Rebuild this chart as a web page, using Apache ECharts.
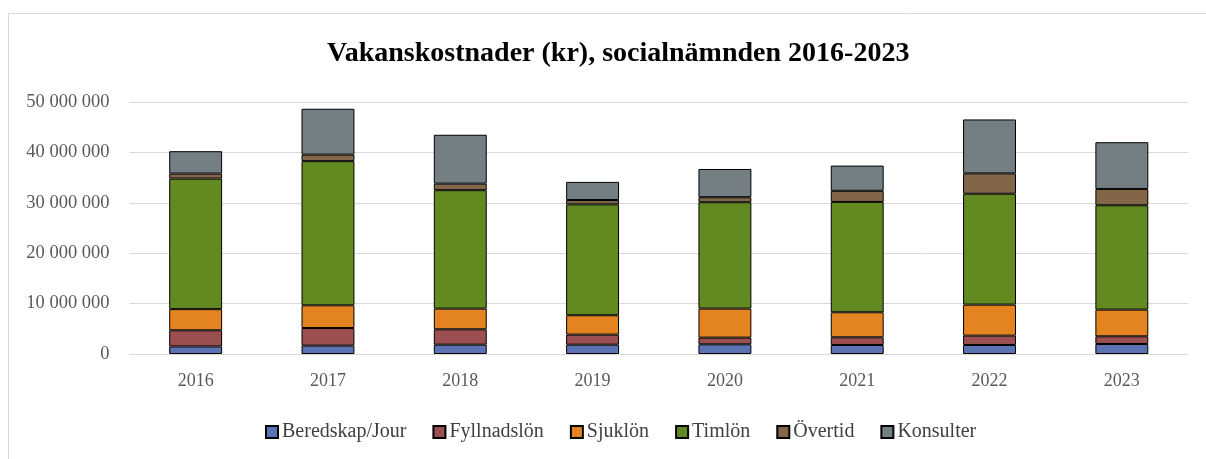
<!DOCTYPE html>
<html>
<head>
<meta charset="utf-8">
<script src="https://cdn.jsdelivr.net/npm/echarts@6/dist/echarts.min.js"></script>
<style>
html, body { margin: 0; padding: 0; background: #fff; }
#main { width: 1206px; height: 459px; }
</style>
</head>
<body>
<div id="main"></div>
<script>
// år
var years = ['2016', '2017', '2018', '2019', '2020', '2021', '2022', '2023'];
// kostnadsslag (kr)
var beredskap = [1500000, 1660000, 1850000, 1850000, 1920000, 1790000, 1790000, 1990000];
var fyllnad = [3200000, 3500000, 3050000, 2000000, 1330000, 1520000, 1850000, 1520000];
var sjuklon = [4200000, 4500000, 4100000, 3840000, 5760000, 4970000, 6160000, 5300000];
var timlon = [25900000, 28600000, 23500000, 22000000, 21100000, 21900000, 22000000, 20700000];
var overtid = [1000000, 1300000, 1300000, 860000, 1000000, 2200000, 4040000, 3240000];
var konsulter = [4440000, 9100000, 9700000, 3600000, 5600000, 5000000, 10700000, 9270000];
var yTicks = [0, 10000000, 20000000, 30000000, 40000000, 50000000];

var fontFam = '"Liberation Serif", "DejaVu Serif", serif';
var seriesDef = [
    {name: 'Beredskap/Jour', data: beredskap, color: '#5b72b3'},
    {name: 'Fyllnadslön', data: fyllnad, color: '#9c4f51'},
    {name: 'Sjuklön', data: sjuklon, color: '#e48420'},
    {name: 'Timlön', data: timlon, color: '#638a20'},
    {name: 'Övertid', data: overtid, color: '#836648'},
    {name: 'Konsulter', data: konsulter, color: '#737f83'}
];

function fmt(v) {
    return String(v).replace(/\B(?=(\d{3})+(?!\d))/g, ' ');
}

var chart = echarts.init(document.getElementById('main'), null, {renderer: 'canvas'});
chart.setOption({
    backgroundColor: '#fff',
    animation: false,
    graphic: [{
        type: 'rect',
        shape: {x: 8.5, y: 13.5, width: 1250, height: 500},
        style: {fill: 'none', stroke: '#d9d9d9', lineWidth: 1},
        silent: true
    }],
    title: {
        text: 'Vakanskostnader (kr), socialnämnden 2016-2023',
        left: 322,
        top: 35,
        textStyle: {fontFamily: fontFam, fontWeight: 'bold', fontSize: 28, color: '#000'}
    },
    legend: {
        bottom: 12,
        left: 260,
        itemWidth: 12,
        itemHeight: 12,
        itemGap: 26,
        icon: 'rect',
        textStyle: {fontFamily: fontFam, fontSize: 20, color: '#404040', padding: [0, 0, 0, -1]},
        data: seriesDef.map(function(s) { return s.name; })
    },
    grid: {left: 129.5, right: 18, top: 102, bottom: 105, containLabel: false},
    xAxis: {
        type: 'category',
        data: years,
        axisLine: {lineStyle: {color: '#d9d9d9', width: 1}},
        axisTick: {show: false},
        axisLabel: {fontFamily: fontFam, fontSize: 18, color: '#595959', margin: 18}
    },
    yAxis: {
        type: 'value',
        min: 0,
        max: 50000000,
        interval: 10000000,
        axisLine: {show: false},
        axisTick: {show: false},
        splitLine: {lineStyle: {color: '#d9d9d9', width: 1}},
        axisLabel: {
            fontFamily: fontFam, fontSize: 18.5, color: '#595959', margin: 20,
            formatter: function(v) { return yTicks.indexOf(v) >= 0 ? fmt(v) : ''; }
        }
    },
    series: seriesDef.map(function(s) {
        return {
            name: s.name,
            type: 'bar',
            stack: 'total',
            barWidth: '40%',
            data: s.data,
            itemStyle: {color: s.color, borderColor: '#000', borderWidth: 1}
        };
    })
});
</script>
</body>
</html>
